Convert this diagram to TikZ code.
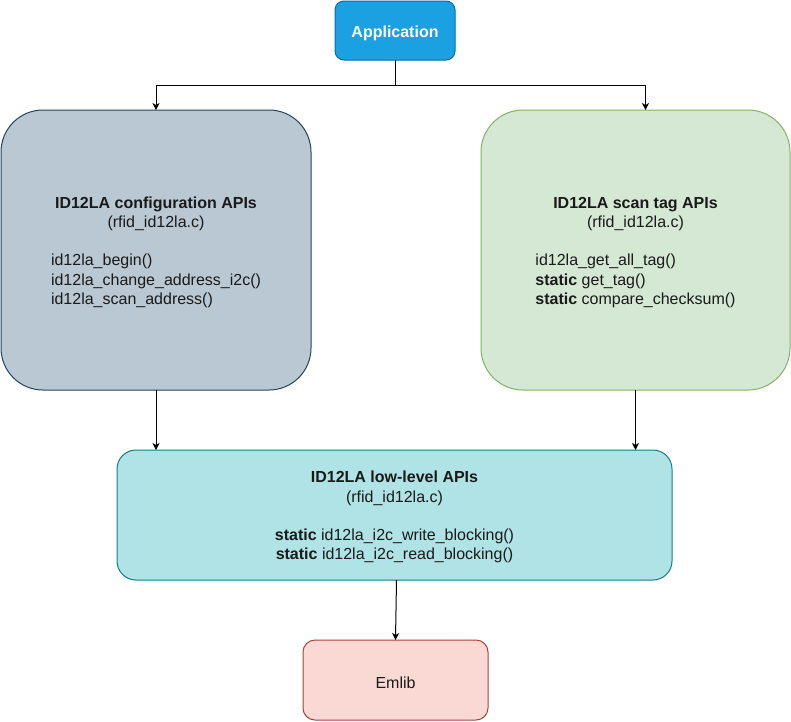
\documentclass[tikz,border=0pt]{standalone}
\usepackage{fontspec}
\setmainfont{Liberation Sans}
\usetikzlibrary{arrows.meta}
\definecolor{appfill}{HTML}{1BA1E2}\definecolor{appdraw}{HTML}{006EAF}
\definecolor{cfgfill}{HTML}{BAC8D3}\definecolor{cfgdraw}{HTML}{23445D}
\definecolor{scanfill}{HTML}{D5E8D4}\definecolor{scandraw}{HTML}{82B366}
\definecolor{lowfill}{HTML}{B0E3E6}\definecolor{lowdraw}{HTML}{0E8088}
\definecolor{emfill}{HTML}{FAD9D5}\definecolor{emdraw}{HTML}{AE4132}
\definecolor{txt}{HTML}{1A1A1A}
\newcommand{\dn}[1]{\raisebox{-2.5pt}[\height][\depth]{#1}}
\begin{document}
\begin{tikzpicture}[x=1pt,y=-1pt,
  font=\fontsize{16}{19.2}\selectfont,
  box/.style={rectangle,inner sep=0pt,outer sep=0pt,line width=1pt,text=txt,align=center},
  arr/.style={line width=1pt,-{Stealth[length=7pt,width=7pt,inset=2pt]}}]
\useasboundingbox (0,0) rectangle (791,721);
\node[box,fill=appfill,draw=appdraw,rounded corners=9pt,minimum width=120pt,minimum height=59pt,text=white]
  (app) at (395,30.5) {\dn{\textbf{Application}}};
\node[box,fill=cfgfill,draw=cfgdraw,rounded corners=42pt,minimum width=310pt,minimum height=280pt]
  (cfg) at (156,250) {\dn{\begin{tabular}{@{}l@{}}
  \multicolumn{1}{@{}c@{}}{\textbf{ID12LA configuration APIs}}\\
  \multicolumn{1}{@{}c@{}}{(rfid\_id12la.c)}\\
  \\
  id12la\_begin()\\
  id12la\_change\_address\_i2c()\\
  id12la\_scan\_address()
  \end{tabular}}};
\node[box,fill=scanfill,draw=scandraw,rounded corners=42pt,minimum width=309pt,minimum height=280pt]
  (scan) at (635.5,250) {\dn{\begin{tabular}{@{}l@{}}
  \multicolumn{1}{@{}c@{}}{\textbf{ID12LA scan tag APIs}}\\
  \multicolumn{1}{@{}c@{}}{(rfid\_id12la.c)}\\
  \\
  id12la\_get\_all\_tag()\\
  \textbf{static} get\_tag()\\
  \textbf{static} compare\_checksum()
  \end{tabular}}};
\node[box,fill=lowfill,draw=lowdraw,rounded corners=19pt,minimum width=555pt,minimum height=130pt]
  (low) at (394.5,515) {\dn{\begin{tabular}{@{}c@{}}
  \textbf{ID12LA low-level APIs}\\
  (rfid\_id12la.c)\\
  \\
  \textbf{static} id12la\_i2c\_write\_blocking()\\
  \textbf{static} id12la\_i2c\_read\_blocking()
  \end{tabular}}};
\node[box,fill=emfill,draw=emdraw,rounded corners=12pt,minimum width=185pt,minimum height=80pt]
  (em) at (395.5,680) {\dn{Emlib}};
\coordinate (j) at (395,85);
\draw[arr] (app.south) -- (j) -| (cfg.north);
\draw[arr] (j) -| ([xshift=10pt]scan.north);
\draw[arr] (cfg.south) -- (cfg.south |- low.north);
\draw[arr] (scan.south) -- (scan.south |- low.north);
\draw[arr] ([xshift=2pt]low.south) -- (em.north);
\end{tikzpicture}
\end{document}
